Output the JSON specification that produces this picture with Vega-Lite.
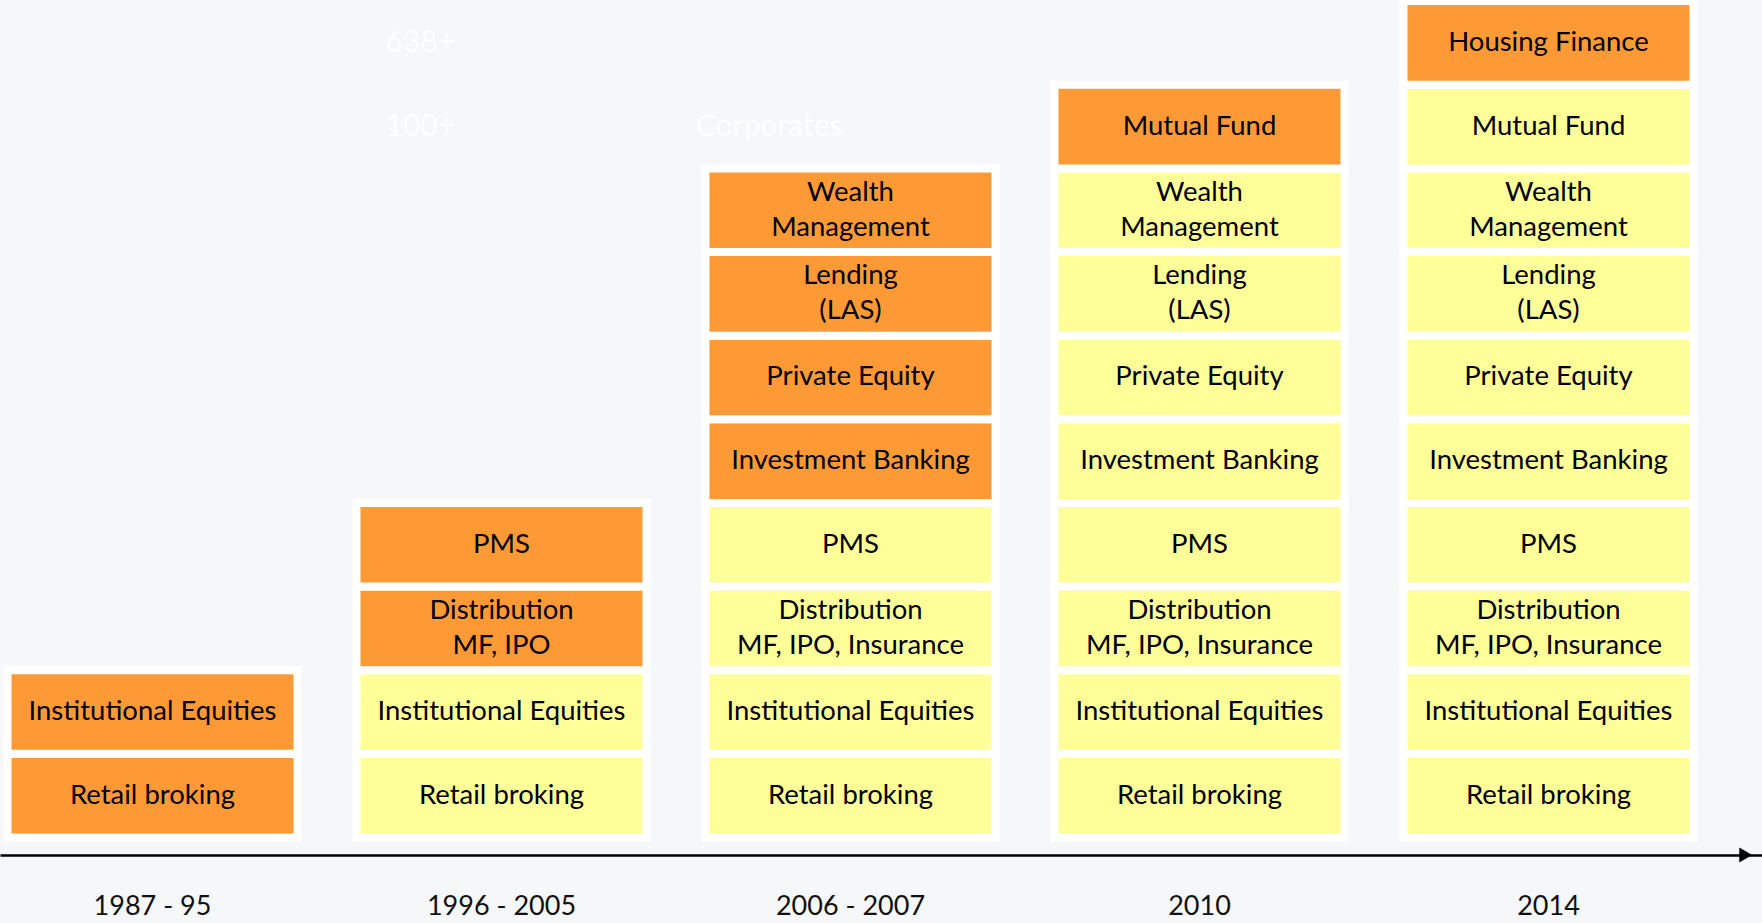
{
  "$schema": "https://vega.github.io/schema/vega-lite/v6.json",
  "width": 1762,
  "height": 855,
  "autosize": {"type": "none"},
  "padding": {"left": 0, "top": 0, "right": 0, "bottom": 68},
  "background": "#f6f7f8",
  "config": {"view": {"stroke": null}, "font": "Lato"},
  "datasets": {
    "blocks": [
      {"period": "1987 - 95", "level": 1, "label": "Retail broking", "status": "new"},
      {"period": "1987 - 95", "level": 2, "label": "Institutional Equities", "status": "new"},
      {"period": "1996 - 2005", "level": 1, "label": "Retail broking", "status": "existing"},
      {"period": "1996 - 2005", "level": 2, "label": "Institutional Equities", "status": "existing"},
      {"period": "1996 - 2005", "level": 3, "label": "Distribution\nMF, IPO", "status": "new"},
      {"period": "1996 - 2005", "level": 4, "label": "PMS", "status": "new"},
      {"period": "2006 - 2007", "level": 1, "label": "Retail broking", "status": "existing"},
      {"period": "2006 - 2007", "level": 2, "label": "Institutional Equities", "status": "existing"},
      {"period": "2006 - 2007", "level": 3, "label": "Distribution\nMF, IPO, Insurance", "status": "existing"},
      {"period": "2006 - 2007", "level": 4, "label": "PMS", "status": "existing"},
      {"period": "2006 - 2007", "level": 5, "label": "Investment Banking", "status": "new"},
      {"period": "2006 - 2007", "level": 6, "label": "Private Equity", "status": "new"},
      {"period": "2006 - 2007", "level": 7, "label": "Lending\n(LAS)", "status": "new"},
      {"period": "2006 - 2007", "level": 8, "label": "Wealth\nManagement", "status": "new"},
      {"period": "2010", "level": 1, "label": "Retail broking", "status": "existing"},
      {"period": "2010", "level": 2, "label": "Institutional Equities", "status": "existing"},
      {"period": "2010", "level": 3, "label": "Distribution\nMF, IPO, Insurance", "status": "existing"},
      {"period": "2010", "level": 4, "label": "PMS", "status": "existing"},
      {"period": "2010", "level": 5, "label": "Investment Banking", "status": "existing"},
      {"period": "2010", "level": 6, "label": "Private Equity", "status": "existing"},
      {"period": "2010", "level": 7, "label": "Lending\n(LAS)", "status": "existing"},
      {"period": "2010", "level": 8, "label": "Wealth\nManagement", "status": "existing"},
      {"period": "2010", "level": 9, "label": "Mutual Fund", "status": "new"},
      {"period": "2014", "level": 1, "label": "Retail broking", "status": "existing"},
      {"period": "2014", "level": 2, "label": "Institutional Equities", "status": "existing"},
      {"period": "2014", "level": 3, "label": "Distribution\nMF, IPO, Insurance", "status": "existing"},
      {"period": "2014", "level": 4, "label": "PMS", "status": "existing"},
      {"period": "2014", "level": 5, "label": "Investment Banking", "status": "existing"},
      {"period": "2014", "level": 6, "label": "Private Equity", "status": "existing"},
      {"period": "2014", "level": 7, "label": "Lending\n(LAS)", "status": "existing"},
      {"period": "2014", "level": 8, "label": "Wealth\nManagement", "status": "existing"},
      {"period": "2014", "level": 9, "label": "Mutual Fund", "status": "existing"},
      {"period": "2014", "level": 10, "label": "Housing Finance", "status": "new"}
    ],
    "faint": [
      {"period": "1996 - 2005", "level": 10, "label": "638+"},
      {"period": "1996 - 2005", "level": 9, "label": "100+"},
      {"period": "2006 - 2007", "level": 9, "label": "Corporates"}
    ],
    "arrow": [
      {"period": "2014", "level": 1}
    ]
  },
  "layer": [
    {
      "data": {"name": "blocks"},
      "mark": {"type": "rect", "stroke": "#ffffff", "strokeWidth": 8, "strokeOpacity": 1},
      "encoding": {
        "x": {
          "field": "period", "type": "ordinal",
          "scale": {
            "domain": ["1987 - 95", "1996 - 2005", "2006 - 2007", "2010", "2014"],
            "paddingInner": 0.169, "paddingOuter": 0.1089, "align": 0.0987
          },
          "axis": {
            "title": null, "labelAngle": 0, "ticks": false, "tickSize": 0,
            "labelPadding": 38, "labelFontSize": 27, "labelFont": "Lato",
            "labelColor": "#111111", "domainColor": "#000000", "domainWidth": 2.5
          }
        },
        "y": {
          "field": "level", "type": "ordinal",
          "scale": {
            "domain": [10, 9, 8, 7, 6, 5, 4, 3, 2, 1],
            "paddingInner": 0, "paddingOuter": 0.1112, "align": 0.059
          },
          "axis": null
        },
        "color": {
          "field": "status", "type": "nominal",
          "scale": {"domain": ["new", "existing"], "range": ["#fe9a36", "#ffff99"]},
          "legend": null
        }
      }
    },
    {
      "data": {"name": "faint"},
      "mark": {"type": "text", "font": "Lato", "fontSize": 30, "color": "#ffffff", "opacity": 0.9},
      "encoding": {
        "x": {"field": "period", "type": "ordinal", "bandPosition": 0.22},
        "y": {"field": "level", "type": "ordinal"},
        "text": {"field": "label"}
      }
    },
    {
      "data": {"name": "blocks"},
      "transform": [{"filter": "indexof(datum.label, '\\n') < 0"}],
      "mark": {"type": "text", "font": "Lato", "fontSize": 27.5, "color": "#000000", "baseline": "middle", "align": "center"},
      "encoding": {
        "x": {"field": "period", "type": "ordinal"},
        "y": {"field": "level", "type": "ordinal"},
        "text": {"field": "label"}
      }
    },
    {
      "data": {"name": "blocks"},
      "transform": [{"filter": "indexof(datum.label, '\\n') >= 0"}],
      "mark": {"type": "text", "font": "Lato", "fontSize": 27.5, "color": "#000000", "lineBreak": "\n", "lineHeight": 35, "baseline": "middle", "align": "center", "dy": -17.5},
      "encoding": {
        "x": {"field": "period", "type": "ordinal"},
        "y": {"field": "level", "type": "ordinal"},
        "text": {"field": "label"}
      }
    },
    {
      "data": {"name": "arrow"},
      "mark": {"type": "point", "shape": "triangle-right", "filled": true, "color": "#000000", "size": 220, "opacity": 1},
      "encoding": {
        "x": {"field": "period", "type": "ordinal", "bandPosition": 1.18},
        "y": {"field": "level", "type": "ordinal", "bandPosition": 1.209}
      }
    }
  ]
}
